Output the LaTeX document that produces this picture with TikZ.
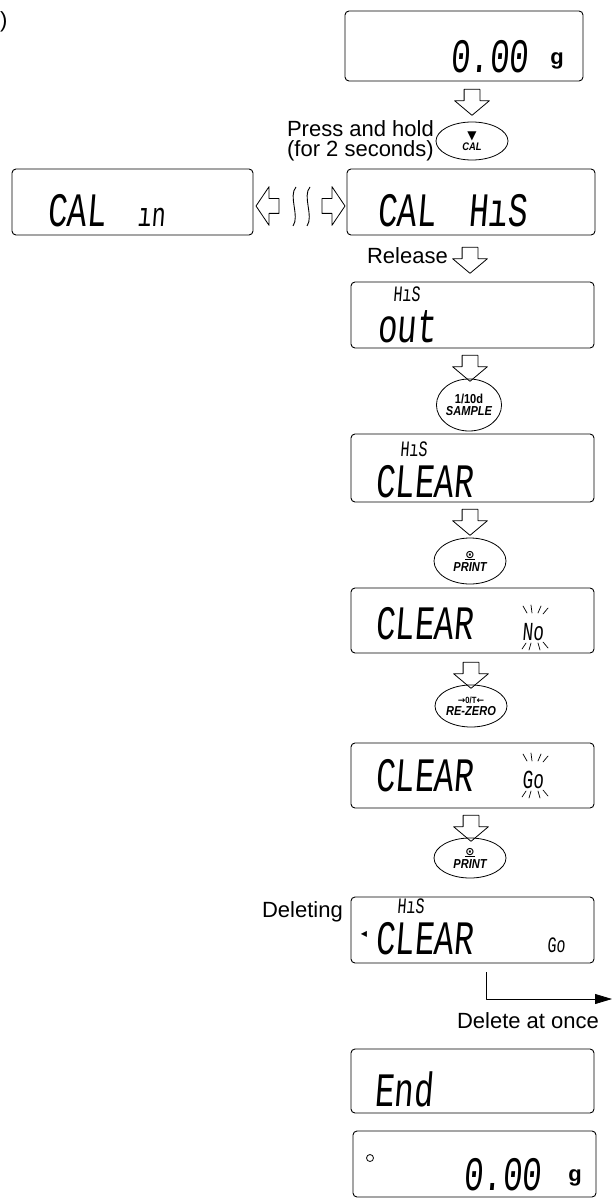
\documentclass[tikz,border=0pt]{standalone}
\usepackage{fontspec}
\setmainfont{Liberation Sans}
\newfontfamily\segfont[FakeStretch=0.68,FakeSlant=0.08]{Liberation Mono}
\newfontfamily\keyfont[FakeStretch=0.85]{Liberation Sans}
\newfontfamily\symfont{DejaVu Sans}
\usetikzlibrary{arrows.meta,calc,positioning,shapes.geometric,shapes.arrows}

\begin{document}
\begin{tikzpicture}[x=1pt,y=-1pt,line join=round,
  lcd/.style={draw,rounded corners=4pt,line width=0.9pt,minimum width=243pt,
    minimum height=66pt,inner sep=0pt},
  keyoval/.style={draw,ellipse,line width=0.8pt,minimum width=72pt,minimum height=40pt,
    inner sep=0pt,align=center,font=\keyfont\fontsize{13}{12}\selectfont\bfseries\itshape},
  downarrow/.style={draw,single arrow,shape border rotate=270,line width=0.8pt,
    minimum height=26pt,inner sep=7.5pt,single arrow head extend=9.5pt,
    single arrow tip angle=100},
  sidearrow/.style={draw,single arrow,line width=0.8pt,minimum height=23pt,
    inner sep=7pt,single arrow head extend=12pt,single arrow tip angle=112},
  bigseg/.style={font=\segfont\fontsize{48}{48}\selectfont,inner sep=0pt,anchor=base west},
  smallseg/.style={font=\segfont\fontsize{22}{22}\selectfont,inner sep=0pt,anchor=base west},
  unit/.style={font=\fontsize{22}{22}\selectfont\bfseries,inner sep=0pt},
  caption/.style={font=\fontsize{22}{20}\selectfont,inner sep=0pt},
  ray/.style={line width=0.7pt,line cap=round}]
  \useasboundingbox (0,0) rectangle (613,1198);

  % cut-off text at the left edge
  \node[caption,anchor=west] (cutparen) at (0,22) {)};

  % starting display and CAL key
  \node[lcd,minimum width=238pt,minimum height=70pt] (zero) at (464,46) {};
  \node[bigseg] (zerotxt) at (450,73) {0.00};
  \node[unit] (zerog) at (557,61) {g};
  \node[downarrow] (a1) at (472,99) {};
  \node[keyoval,minimum height=38pt,font=\keyfont\fontsize{11}{11}\selectfont\bfseries\itshape]
    (cal) at (472,141) {{\symfont\fontsize{12}{10}\selectfont ▼}\\CAL};
  \node[caption,align=right,anchor=east] (hold) at (434,141) {Press and hold\\(for 2 seconds)};

  % CAL in <-> CAL HiS
  \node[lcd,minimum width=241pt] (calin) at (132.5,202) {};
  \node[bigseg] (calintxt) at (47,226) {CAL};
  \node[font=\segfont\fontsize{34}{34}\selectfont,inner sep=0pt,anchor=base west]
    (intxt) at (137,226) {ın};
  \node[lcd,minimum width=248pt] (calhis) at (471,202) {};
  \node[bigseg] (calhistxt) at (377,227) {CAL};
  \node[bigseg] (histxt) at (468,227) {HıS};
  \node[sidearrow,shape border rotate=180] (toleft) at (270,206) {};
  \node[sidearrow] (toright) at (331,206) {};
  \foreach \x in {294,308}
    \draw[line width=0.9pt] (\x+2,187) .. controls (\x-6,196) and (\x+6,216) .. (\x-1,226);

  % release -> HiS out
  \node[downarrow] (a2) at (470,257) {};
  \node[caption,anchor=east] (release) at (448,256) {Release};
  \node[lcd] (hisout) at (472.5,315) {};
  \node[smallseg] (hisouttop) at (393,301) {HıS};
  \node[bigseg] (outtxt) at (377,342) {out};
  \node[downarrow] (a3) at (470,365) {};
  \node[keyoval,minimum width=62pt,minimum height=52pt] (sample) at (469,405)
    {{\upshape 1/10d}\\SAMPLE};

  % HiS CLEAR
  \node[lcd,minimum height=68pt] (hisclear) at (472.5,468) {};
  \node[smallseg] (hiscleartop) at (400,456) {HıS};
  \node[bigseg] (cleartxt) at (375,497) {CLEAR};
  \node[downarrow] (a4) at (470,519) {};
  \node[keyoval,minimum height=46pt] (print) at (470,561)
    {{\symfont\fontsize{11}{11}\selectfont\underline{⊙}}\\[1pt]PRINT};

  % CLEAR No
  \node[lcd,minimum height=65pt] (clearno) at (472.5,620.5) {};
  \node[bigseg] (clearnotxt) at (375,639) {CLEAR};
  \node[font=\segfont\fontsize{26}{26}\selectfont,inner sep=0pt,anchor=base west]
    (no) at (522,640) {No};
  \node[downarrow] (a5) at (471,672) {};
  \node[keyoval,minimum height=42pt] (rezero) at (471,706)
    {{\fontsize{9}{9}\selectfont\upshape{\symfont →}0/T{\symfont ←}}\\RE-ZERO};

  % CLEAR Go
  \node[lcd,minimum height=65pt] (cleargo) at (472.5,775.5) {};
  \node[bigseg] (cleargotxt) at (375,791) {CLEAR};
  \node[font=\segfont\fontsize{26}{26}\selectfont,inner sep=0pt,anchor=base west]
    (go) at (522,788) {Go};
  \foreach \n in {no,go} {
    \draw[ray] ($(\n.base west)+(1,-34)$) -- ++(4,7);
    \draw[ray] ($(\n.base west)+(9,-35)$) -- ++(1,8);
    \draw[ray] ($(\n.base west)+(16,-27)$) -- ++(3,-7);
    \draw[ray] ($(\n.base west)+(21,-26)$) -- ++(5,-6);
    \draw[ray] ($(\n.base west)+(4,3)$) -- ++(-4,6);
    \draw[ray] ($(\n.base west)+(9,3)$) -- ++(-2,7);
    \draw[ray] ($(\n.base west)+(16,3)$) -- ++(2,7);
    \draw[ray] ($(\n.base west)+(21,2)$) -- ++(5,6);
  }
  \node[downarrow] (a6) at (471,825) {};
  \node[keyoval,minimum height=40pt] (print2) at (470,858)
    {{\symfont\fontsize{11}{11}\selectfont\underline{⊙}}\\[1pt]PRINT};

  % deleting
  \node[lcd] (deleting) at (472.5,930) {};
  \node[caption,anchor=east] (deltext) at (343,912) {Deleting};
  \node[font=\symfont\fontsize{8}{8}\selectfont,inner sep=0pt] (busy) at (364,934) {◀};
  \node[smallseg] (deltop) at (397,913) {HıS};
  \node[bigseg] (deltxt) at (375,954) {CLEAR};
  \node[font=\segfont\fontsize{22}{22}\selectfont,inner sep=0pt,anchor=base west]
    (delgo) at (547,952) {Go};
  \coordinate (dtap) at ($(deleting.south)+(13.5,9)$);
  \coordinate (dout) at (612,999);
  \draw[line width=0.8pt,-{Triangle[length=17pt,width=10pt]}] (dtap) |- (dout);
  \node[caption] (once) at (528,1021) {Delete at once};

  % end and back to weighing
  \node[lcd,minimum height=64pt] (endbox) at (472.5,1081) {};
  \node[bigseg] (endtxt) at (374,1106) {End};
  \node[lcd] (done) at (474.5,1164) {};
  \node[circle,draw,line width=0.8pt,minimum size=7pt,inner sep=0pt] (stable) at (370,1158) {};
  \node[bigseg] (donetxt) at (463,1190) {0.00};
  \node[unit] (doneg) at (575,1178) {g};
\end{tikzpicture}
\end{document}
